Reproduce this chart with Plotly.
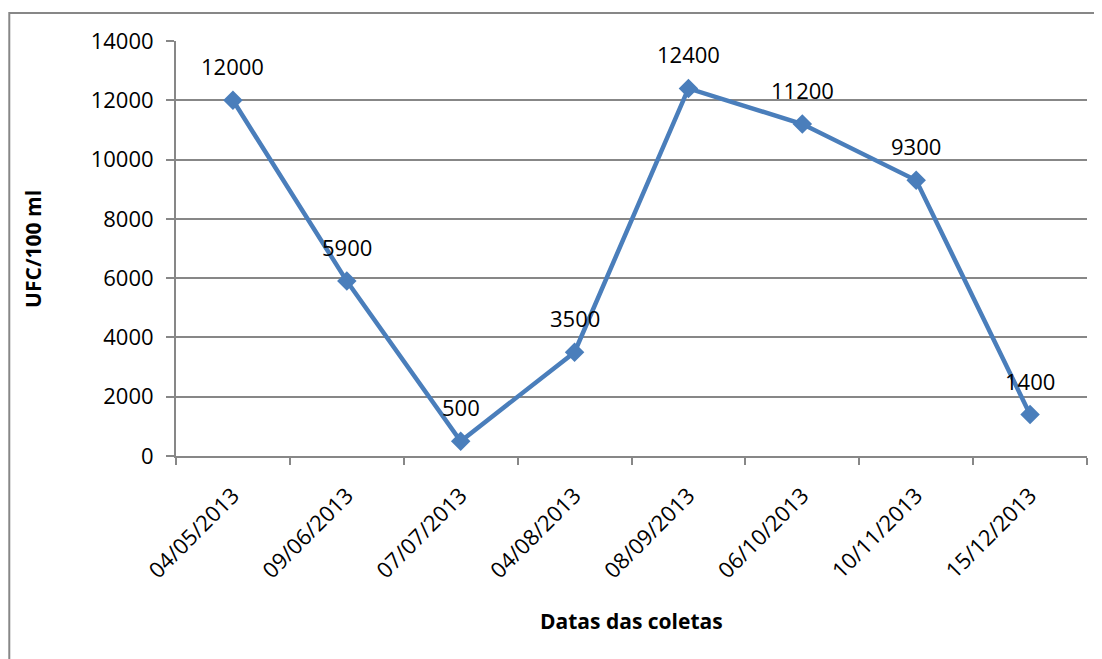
import plotly.graph_objects as go

dates = ["04/05/2013", "09/06/2013", "07/07/2013", "04/08/2013",
         "08/09/2013", "06/10/2013", "10/11/2013", "15/12/2013"]
ufc = [12000, 5900, 500, 3500, 12400, 11200, 9300, 1400]
y_ticks = [0, 2000, 4000, 6000, 8000, 10000, 12000, 14000]

FONT = "Open Sans"
GRID = "#878787"
LINE = "#4A7EBB"
FS = 22

fig = go.Figure()
fig.add_trace(go.Scatter(
    x=dates, y=ufc, mode="lines+markers",
    line=dict(color=LINE, width=4.5),
    marker=dict(symbol="diamond", size=15, color=LINE),
    showlegend=False, cliponaxis=False,
))

annotations = [
    dict(x=d, y=v, text=str(v), showarrow=False, yshift=34,
         font=dict(family=FONT, size=FS, color="black"))
    for d, v in zip(dates, ufc)
]
annotations.append(dict(xref="paper", yref="paper", x=0.4995, y=-0.398,
                        xanchor="center", yanchor="middle",
                        text="<b>Datas das coletas</b>", showarrow=False,
                        font=dict(family=FONT, size=21, color="black")))
annotations.append(dict(xref="paper", yref="paper", x=-0.157, y=0.499,
                        xanchor="center", yanchor="middle",
                        text="<b>UFC/100 ml</b>", showarrow=False, textangle=-90,
                        font=dict(family=FONT, size=21, color="black")))

fig.update_layout(
    width=1094, height=651,
    margin=dict(l=168, r=15, t=33, b=203),
    paper_bgcolor="white", plot_bgcolor="white",
    font=dict(family=FONT, size=FS, color="black"),
    annotations=annotations,
    shapes=[dict(type="rect", xref="paper", yref="paper",
                 x0=-0.183, x1=1.2, y0=-0.6, y1=1.0675,
                 line=dict(color=GRID, width=2), layer="below")],
)
fig.update_xaxes(
    type="category", range=[-0.5, 7.5], tickangle=-45,
    showgrid=False, showline=True, linecolor=GRID, linewidth=2,
    ticks="outside", tickson="boundaries", ticklen=7, tickwidth=2, tickcolor=GRID,
    tickfont=dict(family=FONT, size=FS), ticklabelstandoff=16,
)
fig.update_yaxes(
    range=[0, 14000], tickvals=y_ticks, ticktext=[str(t) for t in y_ticks],
    showgrid=True, gridcolor=GRID, gridwidth=2,
    showline=True, linecolor=GRID, linewidth=2,
    ticks="outside", ticklen=8, tickwidth=2, tickcolor=GRID,
    tickfont=dict(family=FONT, size=FS), zeroline=False, ticklabelstandoff=8,
)

fig.write_html("out.html")
